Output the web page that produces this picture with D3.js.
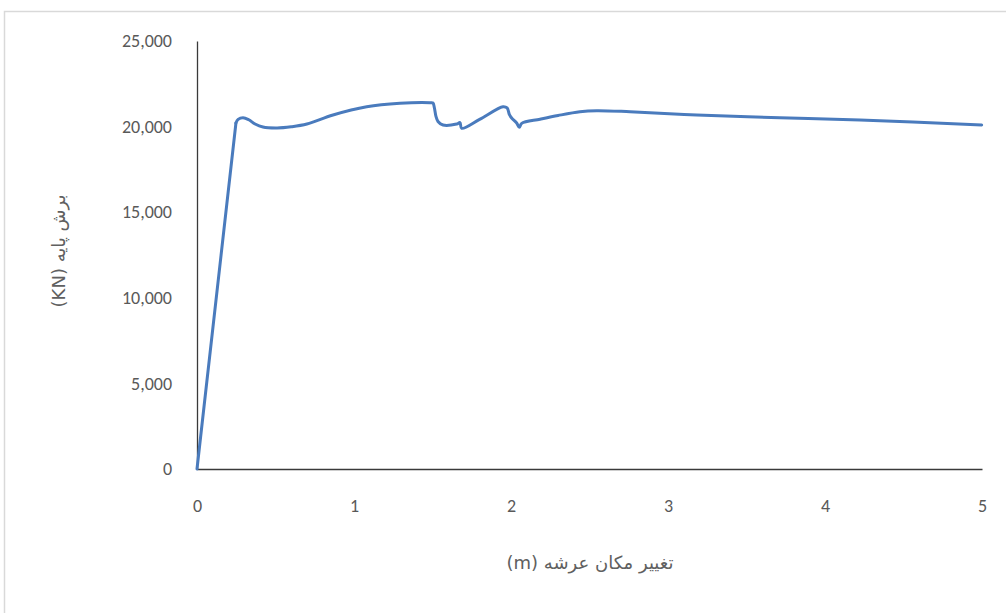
<!DOCTYPE html>
<html>
<head>
<meta charset="utf-8">
<script src="https://cdn.jsdelivr.net/npm/d3@7"></script>
<style>
  html, body { margin: 0; padding: 0; background: #fff; }
  svg { display: block; }
</style>
</head>
<body>
<svg id="chart" width="1006" height="613"></svg>
<script>
// Data
const displacement = [0, 0.248, 0.262, 0.293, 0.33, 0.37, 0.42, 0.51, 0.60, 0.70, 0.866, 1.081, 1.293, 1.484, 1.503, 1.512, 1.522, 1.535, 1.567, 1.654, 1.675, 1.686, 1.80, 1.949, 1.975, 1.99, 2.004, 2.036, 2.053, 2.068, 2.185, 2.30, 2.439, 2.546, 2.758, 3.183, 3.713, 4.223, 4.998];
const baseShear = [0, 20210, 20420, 20520, 20400, 20150, 19975, 19920, 19990, 20150, 20680, 21160, 21360, 21395, 21380, 21100, 20600, 20300, 20090, 20150, 20230, 19900, 20420, 21160, 21090, 20700, 20500, 20210, 19960, 20190, 20430, 20650, 20870, 20930, 20870, 20680, 20520, 20385, 20090];
const xTicks = [0, 1, 2, 3, 4, 5];
const yTicks = [0, 5000, 10000, 15000, 20000, 25000];
const xTitle = "تغییر مکان عرشه (m)";
const yTitle = "برش پایه (KN)";

const svg = d3.select("#chart");
const W = 1006, H = 613;

// outer chart border
svg.append("rect")
  .attr("x", 4.5).attr("y", 11.5)
  .attr("width", W + 10).attr("height", H + 10)
  .attr("fill", "#fff")
  .attr("stroke", "#d9d9d9")
  .attr("stroke-width", 1.5);

const x = d3.scaleLinear().domain([0, 5]).range([197, 982]);
const y = d3.scaleLinear().domain([0, 25000]).range([469, 41]);

const fmt = d3.format(",");
const numFont = "Carlito, Calibri, Lato, 'Open Sans', sans-serif";

// y axis
const yAxis = d3.axisLeft(y).tickValues(yTicks).tickSize(0).tickPadding(25).tickFormat(fmt);
const gy = svg.append("g").attr("transform", `translate(${x(0)},0)`).call(yAxis);
gy.select(".domain").attr("stroke", "#3a3a3a").attr("stroke-width", 1.3);
gy.selectAll("text")
  .attr("fill", "#595959")
  .style("font-family", numFont)
  .style("font-size", "18px");

// x axis
const xAxis = d3.axisBottom(x).tickValues(xTicks).tickSize(0).tickPadding(30).tickFormat(d3.format("d"));
const gx = svg.append("g").attr("transform", `translate(0,${y(0)})`).call(xAxis);
gx.select(".domain").attr("stroke", "#3a3a3a").attr("stroke-width", 1.5);
gx.selectAll("text")
  .attr("fill", "#595959")
  .style("font-family", numFont)
  .style("font-size", "18px");

// line: the initial elastic rise is straight, the rest is smoothed
const pts = displacement.map((d, i) => [d, baseShear[i]]);
const lineStraight = d3.line().x(d => x(d[0])).y(d => y(d[1])).curve(d3.curveLinear);
const lineSmooth = d3.line().x(d => x(d[0])).y(d => y(d[1])).curve(d3.curveCatmullRom.alpha(0.5));

const lineG = svg.append("g")
  .attr("fill", "none")
  .attr("stroke", "#4a7bbd")
  .attr("stroke-width", 3)
  .attr("stroke-linejoin", "round")
  .attr("stroke-linecap", "round");

lineG.append("path").datum(pts.slice(0, 2)).attr("d", lineStraight);
lineG.append("path").datum(pts.slice(1)).attr("d", lineSmooth);

// axis titles
svg.append("text")
  .attr("x", 590).attr("y", 569)
  .attr("text-anchor", "middle")
  .attr("direction", "rtl")
  .attr("fill", "#606060")
  .style("font-family", "'DejaVu Sans', 'Noto Sans', sans-serif")
  .style("font-size", "18px")
  .text(xTitle);

svg.append("text")
  .attr("transform", "translate(65,251) rotate(-90)")
  .attr("text-anchor", "middle")
  .attr("direction", "rtl")
  .attr("fill", "#606060")
  .style("font-family", "'DejaVu Sans', 'Noto Sans', sans-serif")
  .style("font-size", "18px")
  .text(yTitle);
</script>
</body>
</html>
